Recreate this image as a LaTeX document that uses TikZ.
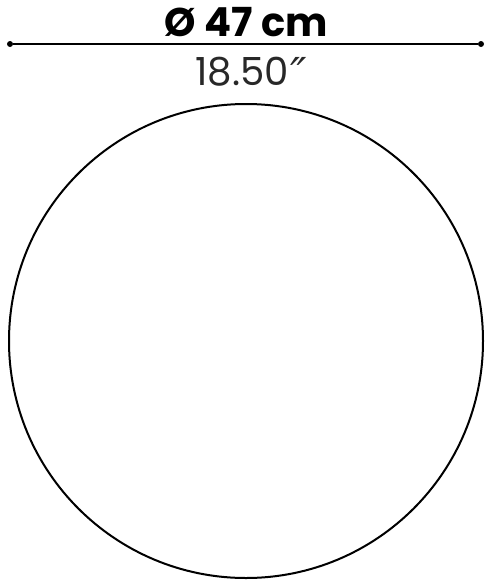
\documentclass[tikz,border=0pt]{standalone}
\usepackage{fontspec}
\setmainfont{Poppins}
\newfontfamily\primefont{DejaVu Sans}
\usetikzlibrary{arrows}

\begin{document}
\begin{tikzpicture}[x=0.75pt,y=0.75pt,yscale=-1,xscale=1]
\tikzset{dimdot/.style={circle,fill=black,inner sep=0pt,minimum size=4.5pt}}
\path[use as bounding box] (0,0) rectangle (490,586); %set diagram left start at 0, and has height of 586

%Straight Lines [id:dimline] 
\node[dimdot] (dl) at (10,44) {};
\node[dimdot] (dr) at (481,44) {};
\draw [line width=1.1pt] (dl) -- (dr) ;

%Shape: Circle [id:tabletop] 
\draw [line width=1.5pt] (246,341) circle [radius=237] ;

% Text Node
\node [inner sep=0pt,anchor=base] (cmlabel) at (246,36) {\fontsize{30}{30}\selectfont\bfseries Ø 47 cm};
% Text Node
\node [inner sep=0pt,anchor=base,color={rgb,255:red,40;green,40;blue,40}] (inlabel) at (251,85) {\fontsize{29}{29}\selectfont 18.50\kern1pt\raisebox{-3pt}{\primefont\fontsize{33}{33}\selectfont\itshape ″}};

\end{tikzpicture}
\end{document}
